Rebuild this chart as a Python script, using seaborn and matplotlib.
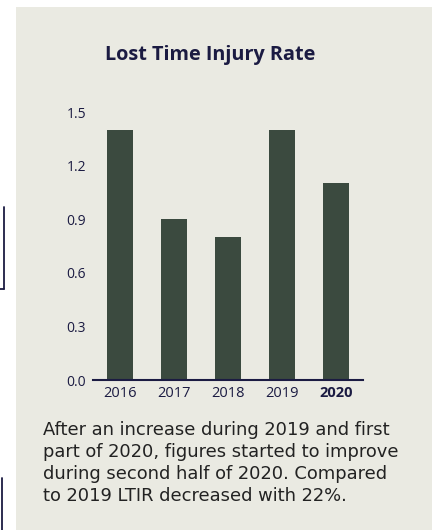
import matplotlib
matplotlib.use("Agg")
import matplotlib.pyplot as plt
import seaborn as sns
import pandas as pd
from matplotlib.patches import Rectangle
from matplotlib.lines import Line2D

years = ["2016", "2017", "2018", "2019", "2020"]
ltir = [1.4, 0.9, 0.8, 1.4, 1.1]
yticks = [0.0, 0.3, 0.6, 0.9, 1.2, 1.5]
title = "Lost Time Injury Rate"
note = ("After an increase during 2019 and first\n"
        "part of 2020, figures started to improve\n"
        "during second half of 2020. Compared\n"
        "to 2019 LTIR decreased with 22%.")

panel = "#EAEAE2"
bar_c = "#3B4A3F"
ink = "#1B1B42"

sns.set_theme(style="white")
plt.rcParams["font.family"] = ["Open Sans", "DejaVu Sans"]

W, H = 432, 530
fig = plt.figure(figsize=(W / 100, H / 100), dpi=100)
fig.patch.set_facecolor("white")

# panel background
fig.patches.append(Rectangle((16 / W, 0), 1 - 16 / W, 1 - 7 / H,
                             transform=fig.transFigure, facecolor=panel,
                             edgecolor="none", zorder=-5))
# left-edge brackets
fig.lines.append(Line2D([4 / W, 4 / W], [1 - 207 / H, 1 - 289 / H],
                        transform=fig.transFigure, color=ink, lw=1.3))
fig.lines.append(Line2D([0, 4 / W], [1 - 289 / H, 1 - 289 / H],
                        transform=fig.transFigure, color=ink, lw=1.3))
fig.lines.append(Line2D([1.5 / W, 1.5 / W], [1 - 478 / H, 0],
                        transform=fig.transFigure, color=ink, lw=1.3))

ax = fig.add_axes([93 / W, 150 / H, 270 / W, 268 / H])
ax.set_zorder(2)
ax.set_facecolor("none")
df = pd.DataFrame({"year": years, "ltir": ltir})
sns.barplot(data=df, x="year", y="ltir", color=bar_c, width=0.48,
            saturation=1, linewidth=0, edgecolor=bar_c, ax=ax)
ax.set_xlim(-0.5, 4.5)
ax.set_ylim(0, 1.5)
ax.set_yticks(yticks)
ax.set_yticklabels([f"{v:.1f}" for v in yticks])
ax.set_xlabel("")
ax.set_ylabel("")
for s in ["top", "right", "left"]:
    ax.spines[s].set_visible(False)
ax.spines["bottom"].set_color(ink)
ax.spines["bottom"].set_linewidth(1.5)
ax.spines["bottom"].set_zorder(3)
ax.tick_params(axis="both", length=0, colors=ink, labelsize=10.5)
ax.tick_params(axis="y", pad=5, labelsize=10)
ax.tick_params(axis="x", pad=4)
for lab in ax.get_xticklabels():
    if lab.get_text() == "2020":
        lab.set_fontweight("bold")

fig.text(210 / W, 1 - 55 / H, title, ha="center", va="center",
         fontsize=14.3, fontweight="bold", color=ink)
fig.text(43 / W, 1 - 421 / H, note, ha="left", va="top",
         fontsize=12.9, color="#222222", linespacing=1.28,
         family=["DejaVu Sans"])

fig.savefig("out.png", dpi=100, facecolor="white")
